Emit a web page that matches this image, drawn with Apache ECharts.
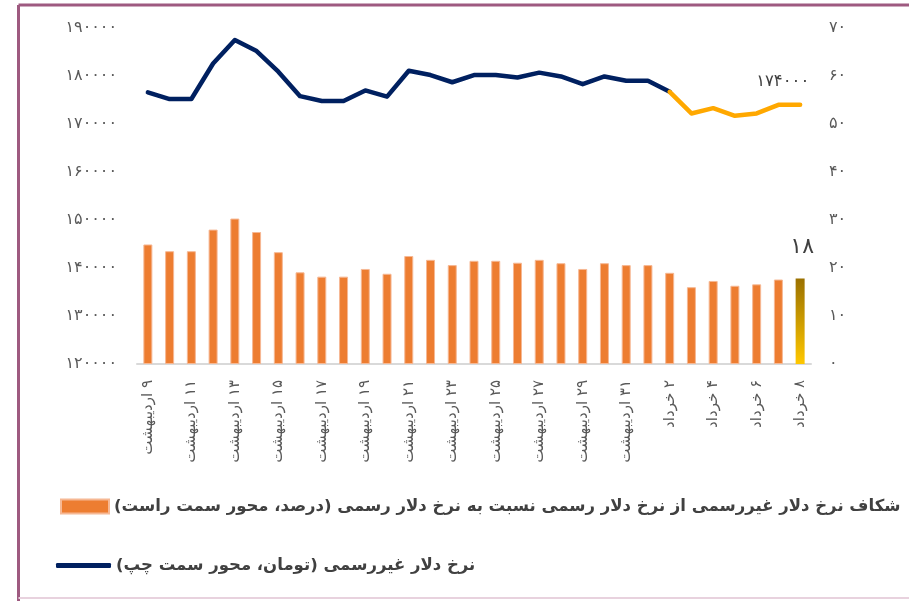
<!DOCTYPE html>
<html>
<head>
<meta charset="utf-8">
<script src="https://cdn.jsdelivr.net/npm/echarts@6/dist/echarts.min.js"></script>
<style>
  html, body { margin: 0; padding: 0; background: #fff; }
  #chart { width: 909px; height: 601px; }
</style>
</head>
<body>
<div id="chart"></div>
<script>
// روزها (محور افقی)
const days = [
  '۹ اردیبهشت', '۱۰ اردیبهشت', '۱۱ اردیبهشت', '۱۲ اردیبهشت', '۱۳ اردیبهشت', '۱۴ اردیبهشت',
  '۱۵ اردیبهشت', '۱۶ اردیبهشت', '۱۷ اردیبهشت', '۱۸ اردیبهشت', '۱۹ اردیبهشت', '۲۰ اردیبهشت',
  '۲۱ اردیبهشت', '۲۲ اردیبهشت', '۲۳ اردیبهشت', '۲۴ اردیبهشت', '۲۵ اردیبهشت', '۲۶ اردیبهشت',
  '۲۷ اردیبهشت', '۲۸ اردیبهشت', '۲۹ اردیبهشت', '۳۰ اردیبهشت', '۳۱ اردیبهشت',
  '۱ خرداد', '۲ خرداد', '۳ خرداد', '۴ خرداد', '۵ خرداد', '۶ خرداد', '۷ خرداد', '۸ خرداد'
];

// شکاف نرخ (درصد) - محور راست
const gapPct = [
  24.9, 23.5, 23.5, 28.0, 30.3, 27.5, 23.3, 19.1, 18.2, 18.2, 19.8, 18.8,
  22.5, 21.7, 20.6, 21.5, 21.5, 21.1, 21.7, 21.0, 19.8, 21.0, 20.6, 20.6,
  19.0, 16.0, 17.3, 16.3, 16.6, 17.6, 17.8
];

// نرخ دلار غیررسمی (تومان) - محور چپ
const freeRate = [
  176600, 175200, 175200, 182600, 187500, 185200, 180900, 175800, 174800, 174800,
  177000, 175700, 181100, 180200, 178700, 180200, 180200, 179700, 180700, 179900,
  178300, 179900, 179000, 179000, 176700, 172200, 173300, 171700, 172200, 174000,
  174000
];

// از این روز به بعد خط نارنجی است
const highlightFrom = 24;

const RLM = '\u200F';
const gapName = RLM + 'شکاف نرخ دلار غیررسمی از نرخ دلار رسمی نسبت به نرخ دلار رسمی (درصد، محور سمت راست)' + RLM;
const rateName = RLM + 'نرخ دلار غیررسمی (تومان، محور سمت چپ)' + RLM;

const faDigits = '۰۱۲۳۴۵۶۷۸۹';
const toFa = v => String(v).replace(/\d/g, d => faDigits[d]);

const last = days.length - 1;

const rateMain = freeRate.map((v, i) => (i <= highlightFrom ? v : '-'));
const rateTail = freeRate.map((v, i) => (i >= highlightFrom ? v : '-'));

const gapData = gapPct.map((v, i) => {
  if (i !== last) return v;
  return {
    value: v,
    itemStyle: {
      color: new echarts.graphic.LinearGradient(0, 1, 1, 0, [
        { offset: 0, color: '#FFC800' },
        { offset: 1, color: '#9A7000' }
      ]),
      borderWidth: 0
    }
  };
});

const chart = echarts.init(document.getElementById('chart'));

const axisText = { color: '#595959', fontSize: 16, fontFamily: 'DejaVu Sans' };
const legendText = { color: '#404040', fontSize: 16.5, fontWeight: 'bold', fontFamily: 'DejaVu Sans' };

chart.setOption({
  animation: false,
  backgroundColor: '#fff',
  grid: { left: 137, right: 98, top: 28, bottom: 237 },
  legend: [
    {
      data: [gapName],
      left: 55,
      top: 493,
      icon: 'rect',
      itemWidth: 48,
      itemHeight: 14,
      textStyle: legendText
    },
    {
      data: [rateName],
      left: 51,
      top: 552,
      icon: 'roundRect',
      itemWidth: 55,
      itemHeight: 5,
      textStyle: legendText
    }
  ],
  xAxis: {
    type: 'category',
    data: days,
    axisLine: { lineStyle: { color: '#D9D9D9', width: 2 } },
    axisTick: { show: false },
    axisLabel: {
      interval: 1,
      rotate: 90,
      margin: 16,
      color: '#595959',
      fontSize: 15,
      fontFamily: 'DejaVu Sans',
      formatter: v => RLM + v + RLM
    }
  },
  yAxis: [
    {
      type: 'value',
      min: 120000,
      max: 190000,
      interval: 10000,
      splitLine: { show: false },
      axisLine: { show: false },
      axisTick: { show: false },
      axisLabel: Object.assign({ margin: 20, formatter: v => toFa(v) }, axisText)
    },
    {
      type: 'value',
      min: 0,
      max: 70,
      interval: 10,
      splitLine: { show: false },
      axisLine: { show: false },
      axisTick: { show: false },
      axisLabel: Object.assign({ margin: 18, formatter: v => toFa(v) }, axisText)
    }
  ],
  series: [
    {
      name: gapName,
      type: 'bar',
      yAxisIndex: 1,
      barWidth: 9,
      data: gapData,
      itemStyle: { color: '#ED7D31', borderColor: '#F6B894', borderWidth: 1 },
      label: {
        show: true,
        position: 'top',
        distance: 20,
        offset: [2, 0],
        color: '#404040',
        fontSize: 22,
        fontFamily: 'DejaVu Sans',
        formatter: p => (p.dataIndex === last ? toFa(Math.round(p.value)) : '')
      },
      z: 1
    },
    {
      name: rateName,
      type: 'line',
      yAxisIndex: 0,
      data: rateMain,
      showSymbol: false,
      symbol: 'none',
      lineStyle: { color: '#002060', width: 4.5, cap: 'round', join: 'round' },
      itemStyle: { color: '#002060' },
      z: 3
    },
    {
      name: 'tail',
      type: 'line',
      yAxisIndex: 0,
      data: rateTail,
      showSymbol: false,
      symbol: 'none',
      lineStyle: { color: '#FFA800', width: 4.5, cap: 'round', join: 'round' },
      itemStyle: { color: '#FFA800' },
      endLabel: {
        show: true,
        offset: [-52, -23],
        color: '#404040',
        fontSize: 16.5,
        fontFamily: 'DejaVu Sans',
        formatter: p => toFa(p.value)
      },
      z: 3
    }
  ],
  graphic: [
    {
      type: 'line',
      shape: { x1: 18.5, y1: 5, x2: 909, y2: 5 },
      style: { stroke: '#9E5A80', lineWidth: 3 }
    },
    {
      type: 'line',
      shape: { x1: 18.5, y1: 5, x2: 18.5, y2: 601 },
      style: { stroke: '#9E5A80', lineWidth: 3 }
    },
    {
      type: 'line',
      shape: { x1: 18.5, y1: 598, x2: 909, y2: 598 },
      style: { stroke: '#E8D2DE', lineWidth: 2 }
    }
  ]
});
</script>
</body>
</html>
